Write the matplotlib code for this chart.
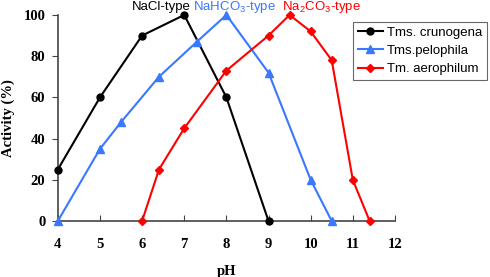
import matplotlib
matplotlib.use("Agg")
import matplotlib.pyplot as plt

# pH activity profiles
ph_crunogena = [4, 5, 6, 7, 8, 9]
act_crunogena = [25, 60, 90, 100, 60, 0]

ph_pelophila = [4, 5, 5.5, 6.4, 7.3, 8, 9, 10, 10.5]
act_pelophila = [0, 35, 48, 70, 87, 100, 72, 20, 0]

ph_aerophilum = [6, 6.4, 7, 8, 9, 9.5, 10, 10.5, 11, 11.4]
act_aerophilum = [0, 25, 45, 73, 90, 100, 92, 78, 20, 0]

x_ticks = [4, 5, 6, 7, 8, 9, 10, 11, 12]
y_ticks = [0, 20, 40, 60, 80, 100]

plt.rcParams['mathtext.fontset'] = 'custom'
plt.rcParams['mathtext.rm'] = 'Liberation Sans'
plt.rcParams['mathtext.it'] = 'Liberation Sans'

serif = 'Liberation Serif'
sans = 'Liberation Sans'

fig = plt.figure(figsize=(4.9, 2.77), dpi=100)
ax = fig.add_axes([0.118, 0.202, 0.688, 0.744])

ax.plot(ph_crunogena, act_crunogena, color='black', marker='o', markersize=5,
        lw=1.5, clip_on=False, label='Tms. crunogena', zorder=3)
ax.plot(ph_pelophila, act_pelophila, color='#3a78ff', marker='^', markersize=6,
        lw=1.5, clip_on=False, label='Tms.pelophila', zorder=3)
ax.plot(ph_aerophilum, act_aerophilum, color='#ff0000', marker='D', markersize=4.5,
        lw=1.5, clip_on=False, label='Tm. aerophilum', zorder=3)

ax.set_xlim(4, 12)
ax.set_ylim(0, 100)
ax.set_xticks(x_ticks)
ax.set_yticks(y_ticks)
ax.spines['top'].set_visible(False)
ax.spines['right'].set_visible(False)
for s in ('left', 'bottom'):
    ax.spines[s].set_color('#444444')
    ax.spines[s].set_linewidth(1.2)
ax.tick_params(axis='x', direction='in', length=4, pad=12, color='#444444')
ax.tick_params(axis='y', direction='out', length=4, pad=5, color='#444444')
for lab in ax.get_xticklabels() + ax.get_yticklabels():
    lab.set_fontfamily(serif)
    lab.set_fontweight('bold')
    lab.set_fontsize(10.5)

ax.set_xlabel('pH', fontfamily=serif, fontweight='bold', fontsize=10.5, labelpad=10)
ax.set_ylabel('Activity (%)', fontfamily=serif, fontweight='bold', fontsize=10.5, labelpad=6)

ax.text(6.45, 104, 'NaCl-type', color='black', fontfamily=sans, fontsize=9.5,
        ha='center', va='center', clip_on=False)
ax.text(8.2, 104, 'NaHCO$_3$-type', color='#3a78ff', fontfamily=sans, fontsize=9.5,
        ha='center', va='center', clip_on=False)
ax.text(10.25, 104, 'Na$_2$CO$_3$-type', color='#ff0000', fontfamily=sans, fontsize=9.5,
        ha='center', va='center', clip_on=False)

leg = fig.legend(*ax.get_legend_handles_labels(), loc='upper left',
                 bbox_to_anchor=(353 / 490, 1 - 22 / 277), borderaxespad=0,
                 frameon=True, fancybox=False, edgecolor='#444444',
                 prop={'family': sans, 'size': 9.5},
                 handlelength=1.9, borderpad=0.35, labelspacing=0.45, handletextpad=0.3)
leg.get_frame().set_linewidth(0.8)

fig.savefig('out.png', dpi=100)
